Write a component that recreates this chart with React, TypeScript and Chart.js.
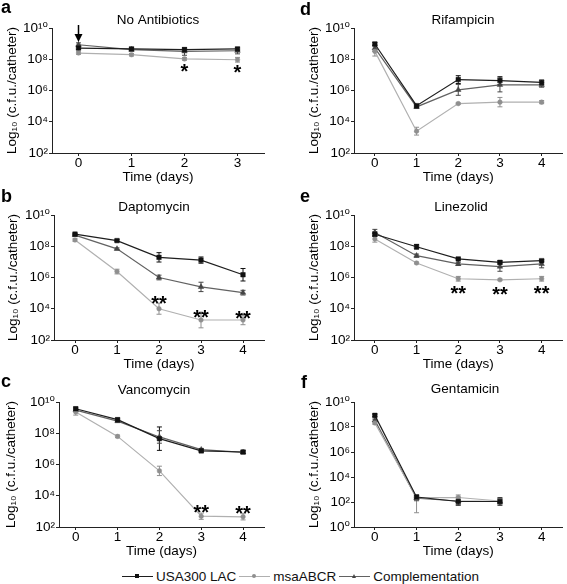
import React, { useEffect, useRef } from 'react';
import { Chart, registerables } from 'chart.js';

Chart.register(...registerables);

const FONT = '"Liberation Sans", Arial, "DejaVu Sans", sans-serif';
const FS = 13.5;
const HALF_LINE = (FS * 1.2) / 2;

// ---------- series ----------
const SERIES_NAMES = ['USA300 LAC', 'msaABCR', 'Complementation'];
const MARKER_COLORS = ['#111111', '#8f8f8f', '#454545'];
const LINE_COLORS = ['#1e1e1e', '#b0b0b0', '#626262'];
const POINT_STYLES = ['rect', 'circle', 'triangle'];
const POINT_RADII = [3.2, 2.3, 3.2];

// ---------- x categories (days) ----------
const DAYS_3 = [0, 1, 2, 3];
const DAYS_4 = [0, 1, 2, 3, 4];

// ---------- tick labels ----------
const X_TICKS_3 = [0, 1, 2, 3];
const X_TICKS_4 = [0, 1, 2, 3, 4];
const Y_TICKS_2_10 = [1e2, 1e4, 1e6, 1e8, 1e10];
const Y_TICKS_0_10 = [1e0, 1e2, 1e4, 1e6, 1e8, 1e10];

// ---------- a: No Antibiotics ----------
const noAbxUSA300 = [5.2e8, 4.6e8, 4.1e8, 4.6e8];
const noAbxMsa = [2.5e8, 1.95e8, 1.05e8, 9.3e7];
const noAbxComp = [8.5e8, 4.1e8, 3.2e8, 3.5e8];
const noAbxUSA300Err = [0.08, 0.08, 0.1, 0.08];
const noAbxMsaErr = [0.08, 0.08, 0.08, 0.15];
const noAbxCompErr = [0.12, 0.08, 0.25, 0.2];

// ---------- b: Daptomycin ----------
const daptoUSA300 = [6.0e8, 2.3e8, 1.95e7, 1.3e7, 1.5e6];
const daptoMsa = [2.5e8, 2.4e6, 1.0e4, 1.9e3, 1.9e3];
const daptoComp = [5.2e8, 6.8e7, 1.0e6, 2.5e5, 1.07e5];
const daptoUSA300Err = [0.05, 0.06, 0.3, 0.2, 0.4];
const daptoMsaErr = [0.08, 0.15, 0.35, 0.5, 0.3];
const daptoCompErr = [0.05, 0.06, 0.15, 0.3, 0.15];

// ---------- c: Vancomycin ----------
const vancoUSA300 = [3.7e9, 7.4e8, 4.5e7, 7.4e6, 6.3e6];
const vancoMsa = [2.3e9, 6.3e7, 3.9e5, 4.9e2, 4.5e2];
const vancoComp = [3.0e9, 6.0e8, 5.8e7, 8.9e6, 6.0e6];
const vancoUSA300Err = [0.1, 0.1, 0.75, 0.08, 0.08];
const vancoMsaErr = [0.2, 0.08, 0.3, 0.2, 0.2];
const vancoCompErr = [0.08, 0.08, 0.4, 0.08, 0.08];

// ---------- d: Rifampicin ----------
const rifUSA300 = [9.5e8, 1.07e5, 5.0e6, 4.3e6, 3.3e6];
const rifMsa = [3.2e8, 2.5e3, 1.45e5, 1.8e5, 1.8e5];
const rifComp = [5.2e8, 8.9e4, 1.1e6, 2.3e6, 2.3e6];
const rifUSA300Err = [0.1, 0.08, 0.25, 0.25, 0.15];
const rifMsaErr = [0.3, 0.25, 0.05, 0.3, 0.1];
const rifCompErr = [0.2, 0.1, 0.35, 0.45, 0.15];

// ---------- e: Linezolid ----------
const linUSA300 = [5.9e8, 9.3e7, 1.55e7, 9.3e6, 1.2e7];
const linMsa = [2.9e8, 8.5e6, 8.3e5, 7.1e5, 8.3e5];
const linComp = [7.6e8, 2.5e7, 7.4e6, 5.0e6, 7.4e6];
const linUSA300Err = [0.15, 0.15, 0.05, 0.1, 0.06];
const linMsaErr = [0.2, 0.05, 0.15, 0.05, 0.15];
const linCompErr = [0.2, 0.1, 0.1, 0.3, 0.25];

// ---------- f: Gentamicin ----------
const gentUSA300 = [8.5e8, 2.5e2, 1.1e2, 1.1e2];
const gentMsa = [2.1e8, 2.2e2, 2.3e2, 1.2e2];
const gentComp = [3.4e8, 2.0e2, 1.2e2, 1.1e2];
const gentUSA300Err = [0.1, 0.15, 0.3, 0.3];
const gentMsaErr: (number | [number, number])[] = [0.1, [1.2, 0.25], 0.2, 0.2];
const gentCompErr = [0.1, 0.2, 0.3, 0.2];

type Err = number | [number, number];
type Star = { day: number; text: string; dy: number };
type Panel = {
  letter: string;
  title: string;
  days: number[];
  xTicks: number[];
  values: number[][];
  errs: Err[][];
  yMin: number;
  yMax: number;
  yTicks: number[];
  xMin: number;
  xMax: number;
  stars: Star[];
  arrowDay?: number;
  box: { x: number; y: number; w: number; h: number };
  area: { l: number; r: number; t: number; b: number };
  titlePos: [number, number];
  yTitleX: number;
  letterPos: [number, number];
};

const PANELS: Panel[] = [
  {
    letter: 'a', title: 'No Antibiotics', days: DAYS_3, xTicks: X_TICKS_3,
    values: [noAbxUSA300, noAbxMsa, noAbxComp],
    errs: [noAbxUSA300Err, noAbxMsaErr, noAbxCompErr],
    yMin: 1e2, yMax: 1e10, yTicks: Y_TICKS_2_10, xMin: -0.5, xMax: 3.5,
    stars: [{ day: 2, text: '*', dy: 8 }, { day: 3, text: '*', dy: 8 }],
    arrowDay: 0,
    box: { x: 0, y: 0, w: 283, h: 190 }, area: { l: 52, r: 264, t: 28, b: 153 },
    titlePos: [158, 20], yTitleX: 12.5, letterPos: [1, 13],
  },
  {
    letter: 'b', title: 'Daptomycin', days: DAYS_4, xTicks: X_TICKS_4,
    values: [daptoUSA300, daptoMsa, daptoComp],
    errs: [daptoUSA300Err, daptoMsaErr, daptoCompErr],
    yMin: 1e2, yMax: 1e10, yTicks: Y_TICKS_2_10, xMin: -0.5, xMax: 4.5,
    stars: [{ day: 2, text: '**', dy: -10 }, { day: 3, text: '**', dy: -7.5 }, { day: 4, text: '**', dy: -6 }],
    box: { x: 0, y: 190, w: 283, h: 190 }, area: { l: 54, r: 264, t: 25, b: 150 },
    titlePos: [154, 17], yTitleX: 13, letterPos: [1, 202],
  },
  {
    letter: 'c', title: 'Vancomycin', days: DAYS_4, xTicks: X_TICKS_4,
    values: [vancoUSA300, vancoMsa, vancoComp],
    errs: [vancoUSA300Err, vancoMsaErr, vancoCompErr],
    yMin: 1e2, yMax: 1e10, yTicks: Y_TICKS_2_10, xMin: -0.4, xMax: 4.5,
    stars: [{ day: 3, text: '**', dy: -8.5 }, { day: 4, text: '**', dy: -8.5 }],
    box: { x: 0, y: 380, w: 283, h: 184 }, area: { l: 59, r: 264, t: 22, b: 147 },
    titlePos: [154, 10], yTitleX: 11.5, letterPos: [1, 387],
  },
  {
    letter: 'd', title: 'Rifampicin', days: DAYS_4, xTicks: X_TICKS_4,
    values: [rifUSA300, rifMsa, rifComp],
    errs: [rifUSA300Err, rifMsaErr, rifCompErr],
    yMin: 1e2, yMax: 1e10, yTicks: Y_TICKS_2_10, xMin: -0.5, xMax: 4.5,
    stars: [],
    box: { x: 283, y: 0, w: 284, h: 190 }, area: { l: 71, r: 282, t: 28, b: 153 },
    titlePos: [180, 20], yTitleX: 31, letterPos: [300, 15],
  },
  {
    letter: 'e', title: 'Linezolid', days: DAYS_4, xTicks: X_TICKS_4,
    values: [linUSA300, linMsa, linComp],
    errs: [linUSA300Err, linMsaErr, linCompErr],
    yMin: 1e2, yMax: 1e10, yTicks: Y_TICKS_2_10, xMin: -0.5, xMax: 4.5,
    stars: [{ day: 2, text: '**', dy: 10 }, { day: 3, text: '**', dy: 10 }, { day: 4, text: '**', dy: 10 }],
    box: { x: 283, y: 190, w: 284, h: 190 }, area: { l: 71, r: 282, t: 25, b: 150 },
    titlePos: [178, 17], yTitleX: 31, letterPos: [300, 202],
  },
  {
    letter: 'f', title: 'Gentamicin', days: DAYS_3, xTicks: X_TICKS_4,
    values: [gentUSA300, gentMsa, gentComp],
    errs: [gentUSA300Err, gentMsaErr, gentCompErr],
    yMin: 1e0, yMax: 1e10, yTicks: Y_TICKS_0_10, xMin: -0.5, xMax: 4.5,
    stars: [],
    box: { x: 283, y: 380, w: 284, h: 184 }, area: { l: 71, r: 282, t: 22, b: 147 },
    titlePos: [182, 9], yTitleX: 31, letterPos: [301, 388],
  },
];

const SUP: Record<string, string> = {
  '0': '\u2070', '1': '\u00B9', '2': '\u00B2', '3': '\u00B3', '4': '\u2074',
  '5': '\u2075', '6': '\u2076', '7': '\u2077', '8': '\u2078', '9': '\u2079',
};
const powLabel = (v: number) => {
  const e = Math.round(Math.log10(v));
  return '10' + String(e).split('').map((c) => SUP[c] || c).join('');
};

function PanelChart({ p }: { p: Panel }) {
  const ref = useRef<HTMLCanvasElement>(null);
  useEffect(() => {
    const canvas = ref.current;
    if (!canvas) return;
    const padLeft = p.yTitleX - HALF_LINE;
    const padBottom = p.box.h - p.area.b - 24 - HALF_LINE;
    const padRight = p.box.w - p.area.r;

    const deco = {
      id: 'deco' + p.letter,
      beforeDatasetsDraw(chart: any) {
        const ctx = chart.ctx;
        const ys = chart.scales.y;
        ctx.save();
        chart.data.datasets.forEach((ds: any, i: number) => {
          const meta = chart.getDatasetMeta(i);
          ctx.strokeStyle = MARKER_COLORS[i];
          ctx.lineWidth = 1;
          meta.data.forEach((pt: any, j: number) => {
            const v = ds.data[j].y;
            const e = ds.errs[j];
            const lo = Array.isArray(e) ? e[0] : e;
            const hi = Array.isArray(e) ? e[1] : e;
            const yLo = Math.min(ys.getPixelForValue(v / Math.pow(10, lo)), chart.chartArea.bottom);
            const yHi = ys.getPixelForValue(v * Math.pow(10, hi));
            const x = pt.x;
            ctx.beginPath();
            ctx.moveTo(x, yLo);
            ctx.lineTo(x, yHi);
            ctx.moveTo(x - 2.5, yLo);
            ctx.lineTo(x + 2.5, yLo);
            ctx.moveTo(x - 2.5, yHi);
            ctx.lineTo(x + 2.5, yHi);
            ctx.stroke();
          });
        });
        ctx.restore();
      },
      afterDatasetsDraw(chart: any) {
        const ctx = chart.ctx;
        const xs = chart.scales.x;
        const ys = chart.scales.y;
        ctx.save();
        // significance stars (relative to msaABCR points)
        ctx.fillStyle = '#000';
        ctx.font = 'bold 20px ' + FONT;
        ctx.textAlign = 'center';
        ctx.textBaseline = 'alphabetic';
        p.stars.forEach((s) => {
          const j = p.days.indexOf(s.day);
          const x = xs.getPixelForValue(s.day);
          const y = ys.getPixelForValue(p.values[1][j]) + s.dy;
          ctx.fillText(s.text, x, y + 0.57 * 20);
        });
        // arrow (treatment start)
        if (p.arrowDay !== undefined) {
          const x = xs.getPixelForValue(p.arrowDay);
          ctx.strokeStyle = '#000';
          ctx.lineWidth = 1.5;
          ctx.beginPath();
          ctx.moveTo(x, 25);
          ctx.lineTo(x, 36);
          ctx.stroke();
          ctx.beginPath();
          ctx.moveTo(x - 4, 34);
          ctx.lineTo(x + 4, 34);
          ctx.lineTo(x, 42);
          ctx.closePath();
          ctx.fill();
        }
        // panel title
        ctx.font = FS + 'px ' + FONT;
        ctx.textBaseline = 'middle';
        ctx.fillText(p.title, p.titlePos[0], p.titlePos[1]);
        ctx.restore();
      },
    };

    const chart = new Chart(canvas, {
      type: 'line',
      data: {
        datasets: SERIES_NAMES.map((name, i) => ({
          label: name,
          data: p.days.map((d, j) => ({ x: d, y: p.values[i][j] })),
          errs: p.errs[i],
          borderColor: LINE_COLORS[i],
          backgroundColor: MARKER_COLORS[i],
          pointBackgroundColor: MARKER_COLORS[i],
          pointBorderColor: MARKER_COLORS[i],
          pointStyle: POINT_STYLES[i],
          pointRadius: POINT_RADII[i],
          pointBorderWidth: 0.5,
          borderWidth: 1.2,
          tension: 0,
          fill: false,
        })) as any,
      },
      options: {
        responsive: false,
        animation: false,
        events: [],
        layout: { padding: { left: padLeft, right: padRight, top: p.area.t, bottom: padBottom } },
        plugins: { legend: { display: false }, tooltip: { enabled: false }, title: { display: false } },
        scales: {
          x: {
            type: 'linear',
            min: p.xMin,
            max: p.xMax,
            afterBuildTicks: (s: any) => { s.ticks = p.xTicks.map((v) => ({ value: v })); },
            afterFit: (s: any) => { s.height = p.box.h - padBottom - p.area.b; },
            ticks: { color: '#000', font: { family: FONT, size: FS }, padding: -1, callback: (v: any) => String(v) },
            grid: { drawOnChartArea: false, drawTicks: true, tickLength: 3, tickColor: '#222', color: '#222' },
            border: { display: true, color: '#222', width: 1 },
            title: { display: true, text: 'Time (days)', color: '#000', font: { family: FONT, size: FS }, padding: 0 },
          },
          y: {
            type: 'logarithmic',
            min: p.yMin,
            max: p.yMax,
            afterBuildTicks: (s: any) => { s.ticks = p.yTicks.map((v) => ({ value: v, major: true })); },
            afterFit: (s: any) => { s.width = p.area.l - padLeft; },
            ticks: { color: '#000', font: { family: FONT, size: FS }, padding: 1, callback: (v: any) => powLabel(Number(v)) },
            grid: { drawOnChartArea: false, drawTicks: true, tickLength: 3, tickColor: '#222', color: '#222' },
            border: { display: true, color: '#222', width: 1 },
            title: { display: true, text: 'Log\u2081\u2080 (c.f.u./catheter)', color: '#000', font: { family: FONT, size: FS }, padding: 0 },
          },
        },
      } as any,
      plugins: [deco],
    });
    return () => chart.destroy();
  }, [p]);
  return (
    <canvas
      ref={ref}
      width={p.box.w}
      height={p.box.h}
      style={{ position: 'absolute', left: p.box.x, top: p.box.y, width: p.box.w, height: p.box.h }}
    />
  );
}

function LegendMarker({ i }: { i: number }) {
  const c = MARKER_COLORS[i];
  let marker: React.ReactNode;
  if (i === 0) marker = <div style={{ width: 4, height: 4, background: c }} />;
  else if (i === 1) marker = <div style={{ width: 4, height: 4, borderRadius: 2, background: c }} />;
  else marker = <div style={{ width: 0, height: 0, borderLeft: '2.5px solid transparent', borderRight: '2.5px solid transparent', borderBottom: '4px solid ' + c }} />;
  return (
    <div style={{ position: 'relative', width: 31, height: 14, marginRight: 3, flex: '0 0 auto' }}>
      <div style={{ position: 'absolute', left: 0, right: 0, top: 7, height: 1, background: LINE_COLORS[i] }} />
      <div style={{ position: 'absolute', left: 13, top: 5 }}>{marker}</div>
    </div>
  );
}

function Legend() {
  return (
    <div style={{ position: 'absolute', left: 122, top: 567, height: 18, display: 'flex', alignItems: 'center', fontFamily: FONT, fontSize: FS, color: '#111', whiteSpace: 'nowrap' }}>
      {SERIES_NAMES.map((name, i) => (
        <div key={name} style={{ display: 'flex', alignItems: 'center', marginRight: 3 }}>
          <LegendMarker i={i} />
          <span>{name}</span>
        </div>
      ))}
    </div>
  );
}

export default function App() {
  return (
    <div style={{ position: 'fixed', left: 0, top: 0, width: 567, height: 584, background: '#fff', overflow: 'hidden' }}>
      {PANELS.map((p) => (
        <PanelChart key={p.letter} p={p} />
      ))}
      {PANELS.map((p) => (
        <div
          key={'L' + p.letter}
          style={{ position: 'absolute', left: p.letterPos[0], top: p.letterPos[1] - 15.2, fontFamily: FONT, fontWeight: 'bold', fontSize: 18, lineHeight: '18px', color: '#000' }}
        >
          {p.letter}
        </div>
      ))}
      <Legend />
    </div>
  );
}
